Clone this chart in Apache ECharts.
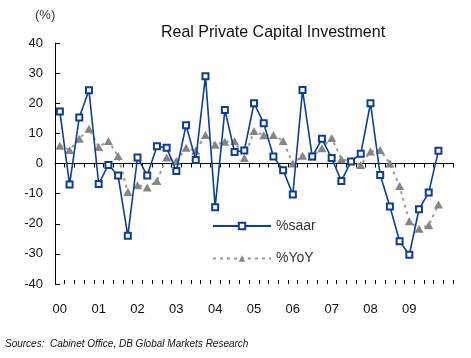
<!DOCTYPE html>
<html>
<head>
<meta charset="utf-8">
<script src="https://cdn.jsdelivr.net/npm/echarts@6/dist/echarts.min.js"></script>
<style>html,body{margin:0;padding:0;background:#fff}#c{width:471px;height:358px}</style>
</head>
<body>
<div id="c"></div>
<script>
// Quarterly, 2000Q1 .. 2009Q4 (plus one empty slot at the end of the axis)
const yearLabels = ['00','01','02','03','04','05','06','07','08','09'];
const saar = [17.3,-7,15.3,24.3, -6.8,-0.5,-4,-24, 2,-4,5.7,5.2, -2.5,12.7,1.2,29,
  -14.5,17.8,3.8,4.3, 20,13.4,2.3,-2.2, -10.3,24.4,2.3,8.2, 1.8,-5.8,0.7,3.2,
  20,-3.8,-14.3,-25.8, -30.3,-15.2,-9.6,4.2];
const yoy = [5.9,4.5,8.2,11.5, 5.5,7.5,2.5,-9.5, -7.2,-8,-5.8,2, 0.8,5.2,4.2,9.5,
  6.2,7.2,7.5,1.8, 10.8,9.4,9.5,7.5, 0,2.6,2.3,5.1, 8.5,1.4,0.8,-0.5,
  4,4.5,0,-7.5, -19.2,-21.7,-20.5,-13.6];
const yTicks = {min:-40, max:40, interval:10};

const categories = [];
yearLabels.forEach(y => { categories.push(y, '', '', ''); });
categories.push('');

const BLUE = '#0D3E94';
const GREY = '#858585';
const FONT = '"Liberation Sans", Arial, sans-serif';

const chart = echarts.init(document.getElementById('c'), null, {renderer:'canvas'});
chart.setOption({
  animation:false,
  backgroundColor:'#fff',
  textStyle:{fontFamily:FONT},
  title:{
    text:'Real Private Capital Investment',
    left:161, top:25, padding:0,
    textStyle:{fontFamily:FONT, fontSize:16, fontWeight:'normal', color:'#111'}
  },
  graphic:[
    {type:'text', left:35, top:9, style:{text:'(%)', font:'13px '+FONT, fill:'#333'}},
    {type:'text', left:5, top:339, style:{text:'Sources:  Cabinet Office, DB Global Markets Research', font:'italic 10px '+FONT, fill:'#111'}}
  ],
  legend:{
    orient:'vertical', left:207, top:214,
    itemWidth:58, itemHeight:8, itemGap:18.5,
    textStyle:{fontFamily:FONT, fontSize:14, color:'#333'},
    data:['%saar','%YoY']
  },
  grid:{left:55, right:18, top:43, bottom:74, containLabel:false},
  xAxis:[
    {type:'category', data:categories, boundaryGap:true,
      axisLine:{onZero:true, lineStyle:{color:'#000', width:1}},
      axisTick:{show:true, interval:0, length:4, inside:false, lineStyle:{color:'#000'}},
      axisLabel:{show:false}, splitLine:{show:false}},
    {type:'category', data:categories, boundaryGap:true, position:'bottom',
      axisLine:{show:false, onZero:true},
      axisTick:{show:true, interval:0, length:4, inside:true, lineStyle:{color:'#000'}},
      axisLabel:{show:false}, splitLine:{show:false}},
    {type:'category', data:categories, boundaryGap:true, position:'bottom',
      axisLine:{show:false, onZero:false}, axisTick:{show:false},
      axisLabel:{show:true, interval:0, margin:19, fontFamily:FONT, fontSize:13, color:'#111'},
      splitLine:{show:false}}
  ],
  yAxis:{
    type:'value', min:yTicks.min, max:yTicks.max, interval:yTicks.interval,
    axisLine:{show:true, lineStyle:{color:'#000', width:1}},
    axisTick:{show:true, inside:true, length:5, lineStyle:{color:'#000'}},
    axisLabel:{margin:12, fontFamily:FONT, fontSize:13, color:'#111'},
    splitLine:{show:false}
  },
  series:[
    {name:'%YoY', type:'line', data:yoy, xAxisIndex:0,
      symbol:'triangle', symbolSize:[9,8], showSymbol:true, showAllSymbol:true,
      lineStyle:{color:'#9a9a9a', width:2, type:[3,4]},
      itemStyle:{color:GREY}, z:2},
    {name:'%saar', type:'line', data:saar, xAxisIndex:0,
      symbol:'rect', symbolSize:6, showSymbol:true, showAllSymbol:true,
      lineStyle:{color:BLUE, width:1.6},
      itemStyle:{color:'#fff', borderColor:BLUE, borderWidth:2}, z:3}
  ]
});
</script>
</body>
</html>
